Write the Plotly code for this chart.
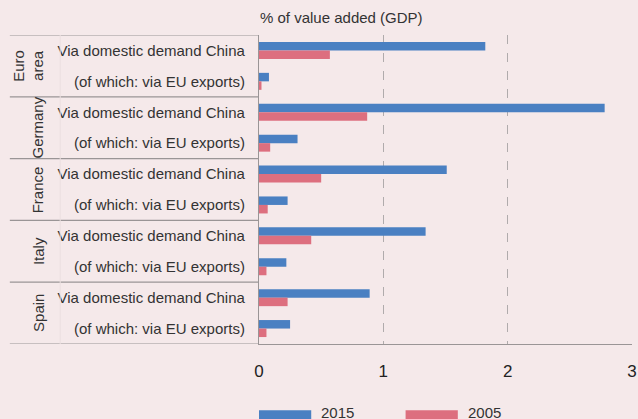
import plotly.graph_objects as go

countries = ["Euro<br>area", "Germany", "France", "Italy", "Spain"]
row_labels = ["Via domestic demand China", "(of which: via EU exports)"] * 5
values_2015 = [1.82, 0.08, 2.78, 0.31, 1.51, 0.23, 1.34, 0.22, 0.89, 0.25]
values_2005 = [0.57, 0.02, 0.87, 0.09, 0.50, 0.07, 0.42, 0.06, 0.23, 0.06]
x_ticks = [0, 1, 2, 3]

BG = "#f5e9ea"
BLUE = "#4a80c2"
PINK = "#dd6f7f"
LINE = "#9a9596"
TXT = "#333333"
FONT = "Liberation Sans, Arial, sans-serif"

rows = list(range(len(row_labels)))

fig = go.Figure()
fig.add_trace(go.Bar(x=values_2015, y=rows, orientation="h", name="2015",
                     marker=dict(color=BLUE, line_width=0)))
fig.add_trace(go.Bar(x=values_2005, y=rows, orientation="h", name="2005",
                     marker=dict(color=PINK, line_width=0)))

fig.update_layout(
    width=638, height=419,
    margin=dict(l=259, r=6, t=35, b=75),
    paper_bgcolor=BG, plot_bgcolor=BG,
    barmode="group", bargap=0.45, bargroupgap=0,
    showlegend=False,
    font=dict(family=FONT, color=TXT, size=15),
)
fig.update_xaxes(
    range=[0, 3], tickvals=x_ticks, showgrid=True, griddash="dash",
    gridcolor="#b0abac", gridwidth=1, zeroline=False, automargin=False,
    showline=True, linecolor=LINE, linewidth=1.2,
    tickfont=dict(size=17, color="#222"), ticklabelstandoff=11, ticks="",
)
fig.update_yaxes(
    range=[len(rows) - 0.5, -0.5], tickvals=rows, ticktext=row_labels,
    showgrid=False, zeroline=False, showline=True, linecolor=LINE, linewidth=1.2,
    automargin=False,
    tickfont=dict(size=15, color=TXT), ticklabelstandoff=10, ticks="",
)

# group separators running out into the label area
for k in range(len(countries) + 1):
    yv = 2 * k - 0.5
    fig.add_shape(type="line", xref="paper", yref="y", x0=-0.668, x1=0,
                  y0=yv, y1=yv, line=dict(color=LINE, width=1.2))
fig.add_shape(type="line", xref="paper", yref="paper", x0=-0.533, x1=-0.533,
              y0=0, y1=1, line=dict(color="#ebdfe0", width=1))

for k, c in enumerate(countries):
    xpos = -0.617 if "<br>" in c else -0.593
    fig.add_annotation(text=c, xref="paper", yref="y", x=xpos, y=2 * k + 0.5,
                       textangle=-90, showarrow=False, font=dict(size=15, color=TXT),
                       xanchor="center", yanchor="middle")

fig.add_annotation(text="% of value added (GDP)", xref="paper", yref="paper",
                   x=-0.003, y=1.058, xanchor="left", yanchor="middle", showarrow=False,
                   font=dict(size=15, color=TXT))

# legend drawn by hand: wide swatches near bottom edge
for name, col, x0 in [("2015", BLUE, 0.0), ("2005", PINK, 0.393)]:
    fig.add_shape(type="rect", xref="paper", yref="paper", x0=x0, x1=x0 + 0.14,
                  y0=-0.245, y1=-0.214, fillcolor=col, line_width=0)
    fig.add_annotation(text=name, xref="paper", yref="paper", x=x0 + 0.162,
                       y=-0.222, xanchor="left", yanchor="middle", showarrow=False,
                       font=dict(size=15, color=TXT))

fig.write_html("out.html", config={"displayModeBar": False},
               post_script="document.body.style.margin='0';")
